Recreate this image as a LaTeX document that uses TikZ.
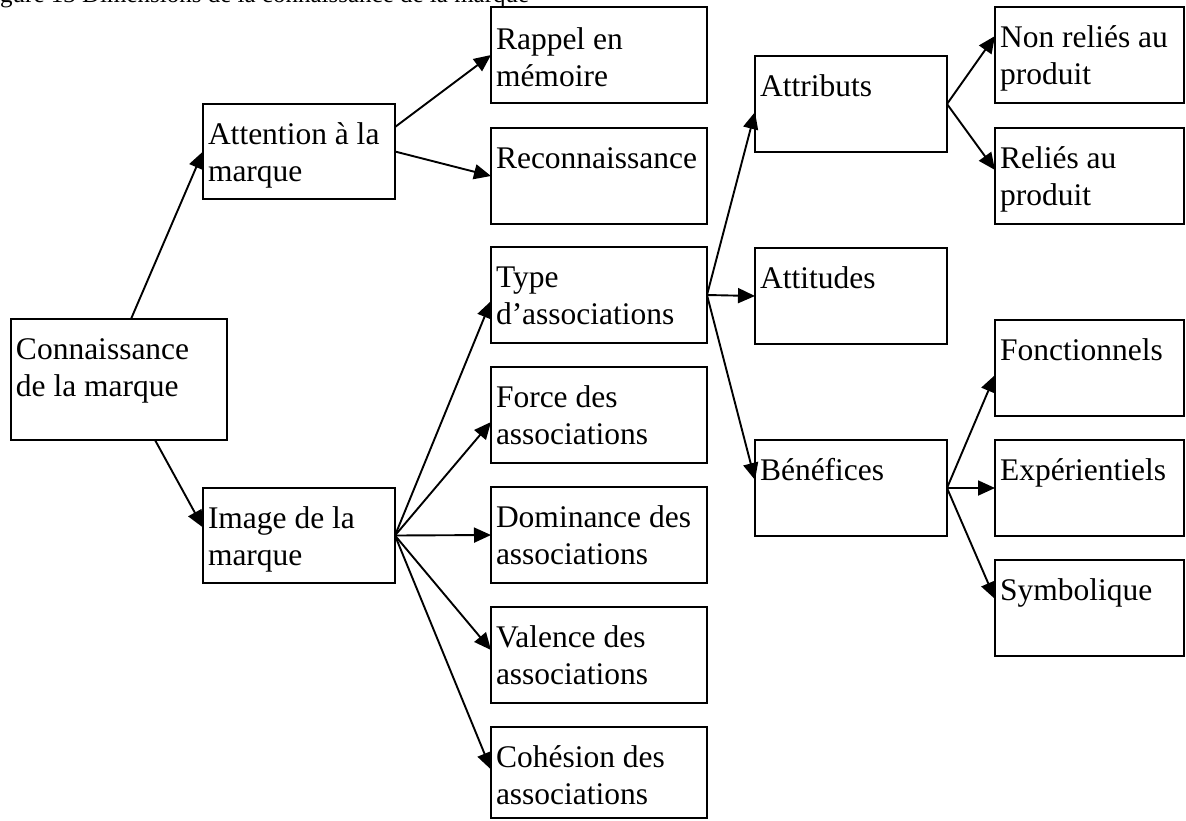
\documentclass[tikz,border=0pt]{standalone}
\usepackage{fontspec}
\setmainfont{Liberation Serif}
\usetikzlibrary{arrows.meta,calc}
\newcommand\mylines[1]{\begin{tabular}[t]{@{}l@{}}#1\end{tabular}}
\begin{document}
\begin{tikzpicture}[x=1pt,y=-1pt,
  box/.style={draw, line width=2.2pt, inner sep=0pt, outer sep=0pt, anchor=north west},
  lbl/.style={anchor=base west, inner sep=0pt, outer sep=0pt, font=\fontsize{31.5}{37}\selectfont},
  conn/.style={line width=1.9pt, -{Triangle[length=17pt,width=15pt]}},
  c0/.style={box, minimum width=216pt, minimum height=121pt},
  c1/.style={box, minimum width=192pt, minimum height=95pt},
  c2/.style={box, minimum width=216pt, minimum height=96pt},
  c3/.style={box, minimum width=192pt, minimum height=96pt},
  c4/.style={box, minimum width=189pt, minimum height=96pt}]
\useasboundingbox (0,0) rectangle (1186,820);
\clip (0,0) rectangle (1186,820);

% title (clipped at the top)
\node[anchor=base west, inner sep=0pt, font=\fontsize{25}{30}\selectfont] (title) at (0,2.5) {gure 13 Dimensions de la connaissance de la marque};

% boxes
\node[c0] (con) at (11,319) {};
\node[c1] (att) at (203,104) {};
\node[c1] (img) at (203,488) {};
\node[c2] (rap) at (491,7) {};
\node[c2] (rec) at (491,128) {};
\node[c2] (typ) at (491,247) {};
\node[c2] (for) at (491,367) {};
\node[c2] (dom) at (491,487) {};
\node[c2] (val) at (491,607) {};
\node[box, minimum width=216pt, minimum height=91pt] (coh) at (491,727) {};
\node[c3] (atb) at (755,56) {};
\node[c3] (atd) at (755,248) {};
\node[c3] (ben) at (755,440) {};
\node[c4] (nr) at (995,7) {};
\node[c4] (rel) at (995,128) {};
\node[c4] (fon) at (995,320) {};
\node[c4] (exp) at (995,440) {};
\node[c4] (sym) at (995,560) {};

% texts
\node[lbl] (tcon) at ($(con.north west)+(5,40)$) {\mylines{Connaissance\\de la marque}};
\node[lbl] (tatt) at ($(att.north west)+(5,40)$) {\mylines{Attention à la\\marque}};
\node[lbl] (timg) at ($(img.north west)+(5,40)$) {\mylines{Image de la\\marque}};
\node[lbl] (trap) at ($(rap.north west)+(5,42)$) {\mylines{Rappel en\\mémoire}};
\node[lbl] (trec) at ($(rec.north west)+(5,40)$) {Reconnaissance};
\node[lbl] (ttyp) at ($(typ.north west)+(5,40)$) {\mylines{Type\\d’associations}};
\node[lbl] (tfor) at ($(for.north west)+(5,40)$) {\mylines{Force des\\associations}};
\node[lbl] (tdom) at ($(dom.north west)+(5,40)$) {\mylines{Dominance des\\associations}};
\node[lbl] (tval) at ($(val.north west)+(5,40)$) {\mylines{Valence des\\associations}};
\node[lbl] (tcoh) at ($(coh.north west)+(5,40)$) {\mylines{Cohésion des\\associations}};
\node[lbl] (tatb) at ($(atb.north west)+(5,40)$) {Attributs};
\node[lbl] (tatd) at ($(atd.north west)+(5,40)$) {Attitudes};
\node[lbl] (tben) at ($(ben.north west)+(5,40)$) {Bénéfices};
\node[lbl] (tnr) at ($(nr.north west)+(5,40)$) {\mylines{Non reliés au\\produit}};
\node[lbl] (trel) at ($(rel.north west)+(5,40)$) {\mylines{Reliés au\\produit}};
\node[lbl] (tfon) at ($(fon.north west)+(5,40)$) {Fonctionnels};
\node[lbl] (texp) at ($(exp.north west)+(5,40)$) {Expérientiels};
\node[lbl] (tsym) at ($(sym.north west)+(5,40)$) {Symbolique};

% connectors
\draw[conn] ($(con.north west)+(120,0)$) -- (att.west);
\draw[conn] ($(con.south west)+(144,0)$) -- ($(img.west)+(0,-8)$);
\draw[conn] ($(att.north east)+(0,23)$) -- (rap.west);
\draw[conn] (att.east) -- (rec.west);
\draw[conn] (img.east) -- ($(typ.west)+(0,6)$);
\draw[conn] (img.east) -- ($(for.west)+(0,7)$);
\draw[conn] (img.east) -- (dom.west);
\draw[conn] (img.east) -- ($(val.west)+(0,-5)$);
\draw[conn] (img.east) -- ($(coh.west)+(0,-3)$);
\draw[conn] (typ.east) -- ($(atb.west)+(0,8)$);
\draw[conn] (typ.east) -- (atd.west);
\draw[conn] (typ.east) -- ($(ben.west)+(0,-8)$);
\draw[conn] (atb.east) -- ($(nr.west)+(0,-19)$);
\draw[conn] (atb.east) -- ($(rel.west)+(0,-6)$);
\draw[conn] (ben.east) -- ($(fon.west)+(0,7)$);
\draw[conn] (ben.east) -- (exp.west);
\draw[conn] (ben.east) -- ($(sym.west)+(0,-9)$);
\end{tikzpicture}
\end{document}
